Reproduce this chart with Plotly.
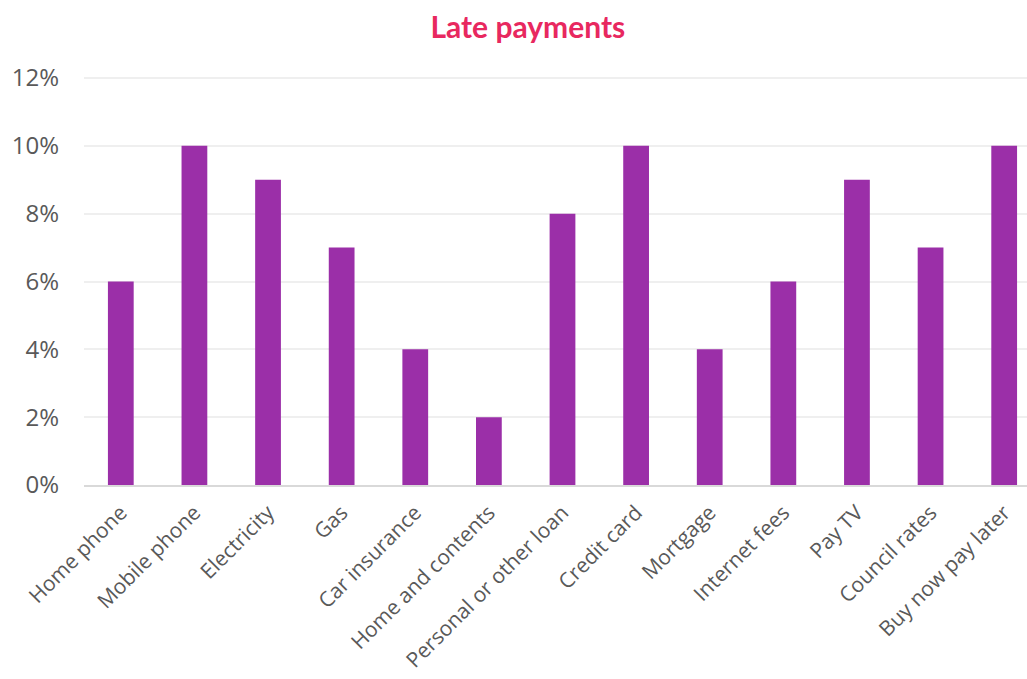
import plotly.graph_objects as go

# Share of respondents who paid each bill late
categories = [
    "Home phone", "Mobile phone", "Electricity", "Gas", "Car insurance",
    "Home and contents", "Personal or other loan", "Credit card", "Mortgage",
    "Internet fees", "Pay TV", "Council rates", "Buy now pay later",
]
late_share = [6, 10, 9, 7, 4, 2, 8, 10, 4, 6, 9, 7, 10]

y_ticks = [0, 2, 4, 6, 8, 10, 12]
y_tick_labels = ["0%", "2%", "4%", "6%", "8%", "10%", "12%"]

fig = go.Figure(
    go.Bar(
        x=categories,
        y=late_share,
        marker=dict(color="#9B2FA8", line=dict(width=0)),
        hoverinfo="x+y",
    )
)

fig.update_layout(
    width=1027,
    height=679,
    paper_bgcolor="white",
    plot_bgcolor="white",
    margin=dict(l=84, r=0, t=76, b=194),
    bargap=0.65,
    showlegend=False,
    title=dict(
        text="<b>Late payments</b>",
        x=0.514,
        xanchor="center",
        xref="container",
        y=0.96,
        yanchor="middle",
        yref="container",
        font=dict(family="Lato, 'Open Sans', sans-serif", size=30, color="#E8285F"),
    ),
    font=dict(family="'Open Sans', sans-serif", color="#595959"),
)

fig.update_xaxes(
    range=[-0.5, 12.31],
    tickangle=-45,
    tickfont=dict(size=21, color="#595959"),
    showgrid=False,
    showline=True,
    linecolor="#D9D9D9",
    linewidth=2,
    ticks="",
    ticklabelstandoff=5,
    automargin=False,
    fixedrange=True,
)

fig.update_yaxes(
    range=[0, 12.06],
    tickvals=y_ticks,
    ticktext=y_tick_labels,
    tickfont=dict(size=24, color="#595959"),
    showgrid=True,
    gridcolor="#EFEFEF",
    gridwidth=2,
    zeroline=False,
    showline=False,
    ticks="",
    ticklabelstandoff=24,
    automargin=False,
    fixedrange=True,
)

fig.write_html("out.html")
